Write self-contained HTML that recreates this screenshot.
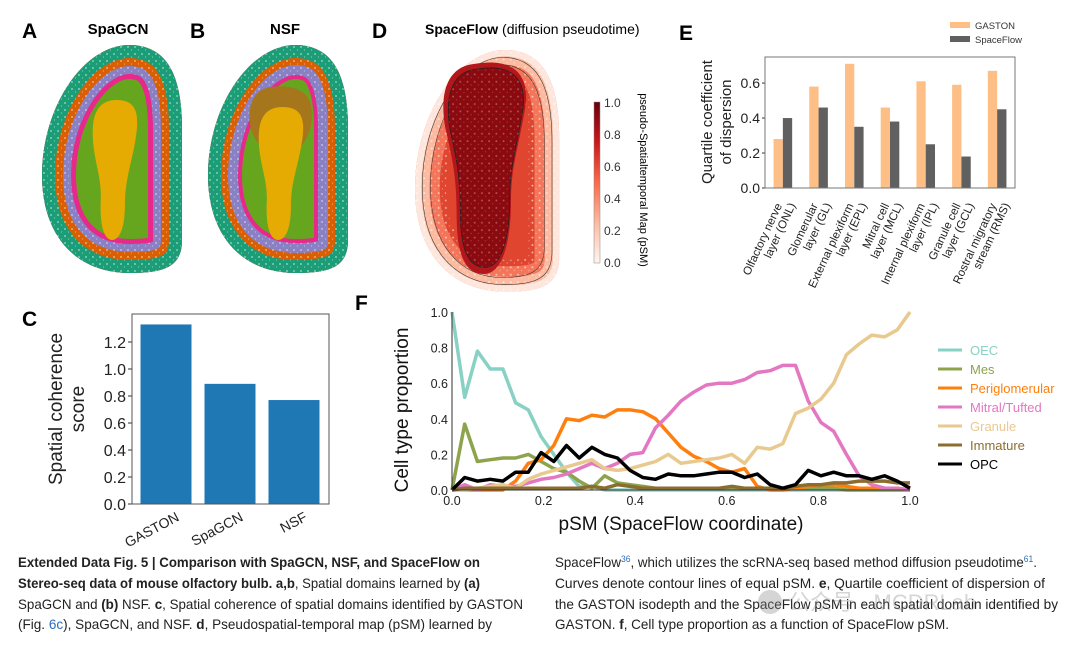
<!DOCTYPE html>
<html><head><meta charset="utf-8">
<style>
body{margin:0;background:#fff;}
svg{display:block;font-family:"Liberation Sans","DejaVu Sans",sans-serif;}
.cap{font-family:"Liberation Sans Narrow","Liberation Sans",sans-serif;font-size:14px;fill:#222;}
</style></head>
<body>
<svg id="fig" width="1080" height="651" viewBox="0 0 1080 651">
<defs>
<pattern id="speck" width="7" height="7" patternUnits="userSpaceOnUse">
<circle cx="2" cy="2" r="0.9" fill="#fff" opacity="0.6"/><circle cx="5.5" cy="5" r="0.6" fill="#fff" opacity="0.45"/>
</pattern>
<path id="kid" d="M90 0 C128 2 140 35 140 85 L140 195 C140 222 122 228 88 228 C35 228 0 192 0 130 C0 62 42 -2 90 0 Z"/>
<clipPath id="kclip"><use href="#kid"/></clipPath>
<path id="inner" d="M50 0 C70 0 72 15 68 40 C64 65 58 80 58 105 C58 130 52 140 46 140 C38 140 34 125 35 100 C36 80 30 65 28 45 C25 15 32 0 50 0 Z"/>
<path id="dcore" d="M60 18 C95 12 110 28 104 60 C98 95 92 110 92 140 C92 175 85 205 68 205 C48 205 44 180 44 150 C44 120 40 100 34 75 C28 40 38 20 60 18 Z"/>
<linearGradient id="cbar" x1="0" y1="1" x2="0" y2="0">
<stop offset="0" stop-color="#fff5f0"/><stop offset="0.25" stop-color="#fcbba1"/><stop offset="0.5" stop-color="#fb6a4a"/><stop offset="0.75" stop-color="#cb181d"/><stop offset="1" stop-color="#67000d"/>
</linearGradient>
</defs>

<!-- Panel A -->
<text x="22" y="38" font-size="21" font-weight="bold">A</text>
<text x="118" y="34" font-size="15" font-weight="bold" text-anchor="middle">SpaGCN</text>
<g transform="translate(42,45)">
<g clip-path="url(#kclip)">
<use href="#kid" fill="#66a61e"/>
<use href="#kid" fill="none" stroke="#e7298a" stroke-width="68"/>
<use href="#kid" fill="none" stroke="#8a80c4" stroke-width="58"/>
<use href="#kid" fill="none" stroke="#d95f02" stroke-width="42"/>
<use href="#kid" fill="none" stroke="#1b9e77" stroke-width="26"/>
<use href="#kid" fill="none" stroke="url(#speck)" stroke-width="58"/>
</g>
<use href="#inner" fill="#e6ab02" transform="translate(22,55) scale(1.05,1)"/>
</g>

<!-- Panel B -->
<text x="190" y="38" font-size="21" font-weight="bold">B</text>
<text x="285" y="34" font-size="15" font-weight="bold" text-anchor="middle">NSF</text>
<g transform="translate(208,45)">
<g clip-path="url(#kclip)">
<use href="#kid" fill="#66a61e"/>
<use href="#kid" fill="none" stroke="#e7298a" stroke-width="68"/>
<use href="#kid" fill="none" stroke="#8a80c4" stroke-width="60"/>
<use href="#kid" fill="none" stroke="#d95f02" stroke-width="40"/>
<use href="#kid" fill="none" stroke="#1b9e77" stroke-width="26"/>
<use href="#kid" fill="none" stroke="url(#speck)" stroke-width="60"/>
</g>
<path d="M62 42 C95 38 108 52 103 80 C99 100 86 110 76 112 C60 112 48 100 43 84 C38 62 45 45 62 42 Z" fill="#a6761d"/>
<use href="#inner" fill="#e6ab02" transform="translate(22,62) scale(1.05,0.95)"/>
</g>

<!-- Panel D -->
<text x="372" y="38" font-size="21" font-weight="bold">D</text>
<text x="425" y="34" font-size="14"><tspan font-weight="bold">SpaceFlow</tspan> (diffusion pseudotime)</text>
<g transform="translate(415,50) scale(1.03,1.06)">
<g clip-path="url(#kclip)">
<use href="#kid" fill="#e0452f"/>
<use href="#kid" fill="none" stroke="#f4765a" stroke-width="48"/>
<use href="#kid" fill="none" stroke="#fcbba1" stroke-width="28"/>
<use href="#kid" fill="none" stroke="#fee6dc" stroke-width="12"/>
<use href="#kid" fill="none" stroke="url(#speck)" stroke-width="60"/>
<use href="#kid" fill="none" stroke="#333" stroke-width="0.6" transform="translate(7,7) scale(0.9,0.94)"/>
<use href="#kid" fill="none" stroke="#333" stroke-width="0.6" transform="translate(15,14) scale(0.79,0.88)"/>
</g>
<use href="#dcore" fill="#b3161b" transform="translate(-8,-6) scale(1.1,1.06)"/>
<use href="#dcore" fill="#8b0a0f"/>
<use href="#dcore" fill="none" stroke="#222" stroke-width="0.7"/>
<use href="#dcore" fill="url(#speck)" opacity="0.5"/>
</g>
<rect x="594" y="102" width="6" height="161" fill="url(#cbar)" stroke="#888" stroke-width="0.5"/>
<g font-size="12" fill="#333">
<text x="604" y="107">1.0</text><text x="604" y="139">0.8</text><text x="604" y="171">0.6</text><text x="604" y="203">0.4</text><text x="604" y="235">0.2</text><text x="604" y="267">0.0</text>
</g>
<text transform="translate(640,180) rotate(90)" font-size="11" text-anchor="middle">pseudo-Spatialtemporal Map (pSM)</text>

<!-- Panel E -->
<text x="679" y="40" font-size="21" font-weight="bold">E</text>
<g id="chartE"></g>

<!-- Panel C -->
<text x="22" y="326" font-size="21" font-weight="bold">C</text>
<g id="chartC"></g>

<!-- Panel F -->
<text x="355" y="310" font-size="21" font-weight="bold">F</text>
<g id="chartF"></g>

<!-- Caption -->
<g class="cap">
<text x="18" y="567" textLength="462" lengthAdjust="spacingAndGlyphs" font-weight="bold">Extended Data Fig. 5 | Comparison with SpaGCN, NSF, and SpaceFlow on</text>
<text x="18" y="588" textLength="462" lengthAdjust="spacingAndGlyphs"><tspan font-weight="bold">Stereo-seq data of mouse olfactory bulb. a,b</tspan>, Spatial domains learned by <tspan font-weight="bold">(a)</tspan></text>
<text x="18" y="609" textLength="505" lengthAdjust="spacingAndGlyphs">SpaGCN and <tspan font-weight="bold">(b)</tspan> NSF. <tspan font-weight="bold">c</tspan>, Spatial coherence of spatial domains identified by GASTON</text>
<text x="18" y="629" textLength="474" lengthAdjust="spacingAndGlyphs">(Fig. <tspan fill="#2a6ebb">6c</tspan>), SpaGCN, and NSF. <tspan font-weight="bold">d</tspan>, Pseudospatial-temporal map (pSM) learned by</text>
<text x="555" y="567" textLength="482" lengthAdjust="spacingAndGlyphs">SpaceFlow<tspan fill="#2a6ebb" font-size="9" dy="-5">36</tspan><tspan dy="5">, which utilizes the scRNA-seq based method diffusion pseudotime</tspan><tspan fill="#2a6ebb" font-size="9" dy="-5">61</tspan><tspan dy="5">.</tspan></text>
<text x="555" y="588" textLength="490" lengthAdjust="spacingAndGlyphs">Curves denote contour lines of equal pSM. <tspan font-weight="bold">e</tspan>, Quartile coefficient of dispersion of</text>
<text x="555" y="609" textLength="503" lengthAdjust="spacingAndGlyphs">the GASTON isodepth and the SpaceFlow pSM in each spatial domain identified by</text>
<text x="555" y="629" textLength="394" lengthAdjust="spacingAndGlyphs">GASTON. <tspan font-weight="bold">f</tspan>, Cell type proportion as a function of SpaceFlow pSM.</text>
</g>
<g opacity="0.35">
<circle cx="770" cy="602" r="12" fill="#888"/>
<text x="788" y="610" font-size="22" fill="#888" font-family="Liberation Sans, Noto Sans CJK SC, sans-serif">公众号 · MCDRLab</text>
</g>
</svg>

<script>
const NS="http://www.w3.org/2000/svg";
function mk(parent,tag,attrs,txt){const e=document.createElementNS(NS,tag);for(const k in attrs)e.setAttribute(k,attrs[k]);if(txt!==undefined)e.textContent=txt;parent.appendChild(e);return e;}

// ---------- Panel C data ----------
const cCats=["GASTON","SpaGCN","NSF"];
const cVals=[1.33,0.89,0.77];
const cTicks=[0.0,0.2,0.4,0.6,0.8,1.0,1.2];

// ---------- Panel E data ----------
const eCats=[["Olfactory nerve","layer (ONL)"],["Glomerular","layer (GL)"],["External plexiform","layer (EPL)"],["Mitral cell","layer (MCL)"],["Internal plexiform","layer (IPL)"],["Granule cell","layer (GCL)"],["Rostral migratory","stream (RMS)"]];
const eGaston=[0.28,0.58,0.71,0.46,0.61,0.59,0.67];
const eSpaceflow=[0.40,0.46,0.35,0.38,0.25,0.18,0.45];
const eTicks=[0.0,0.2,0.4,0.6];

// ---------- Panel F data ----------
const fNames=["OEC","Mes","Periglomerular","Mitral/Tufted","Granule","Immature","OPC"];
const fOEC=[1.0,0.52,0.78,0.68,0.68,0.49,0.45,0.30,0.20,0.10,0.02,0.02,0.0,0,0,0,0,0,0,0,0,0,0,0,0,0,0,0,0,0,0,0,0,0,0,0,0];
const fMes=[0,0.37,0.16,0.17,0.18,0.18,0.20,0.16,0.12,0.10,0.05,0.01,0.08,0.04,0.03,0.02,0.01,0.01,0.01,0.01,0.01,0.01,0.01,0.01,0.01,0.01,0.01,0.01,0.01,0.01,0.01,0,0,0,0,0,0];
const fPeri=[0,0,0,0,0,0.05,0.15,0.17,0.25,0.40,0.39,0.42,0.41,0.45,0.45,0.44,0.40,0.32,0.24,0.19,0.16,0.12,0.10,0.12,0.02,0,0,0.01,0.02,0.03,0.03,0.02,0.01,0.01,0.01,0.01,0];
const fMitral=[0,0.03,0,0.03,0.02,0.02,0.04,0.06,0.07,0.09,0.12,0.15,0.12,0.15,0.20,0.21,0.35,0.42,0.50,0.55,0.59,0.60,0.60,0.62,0.66,0.67,0.70,0.70,0.50,0.38,0.33,0.20,0.08,0.03,0.01,0.01,0];
const fGranule=[0,0,0.01,0.02,0.03,0.01,0.06,0.09,0.11,0.13,0.15,0.17,0.12,0.11,0.12,0.14,0.16,0.20,0.15,0.16,0.17,0.18,0.20,0.15,0.24,0.23,0.26,0.43,0.46,0.51,0.60,0.76,0.82,0.87,0.86,0.90,1.0];
const fImm=[0,0.01,0.01,0.01,0.01,0.01,0.01,0.01,0.01,0.01,0.01,0.02,0.01,0.03,0.02,0.01,0.01,0.01,0.01,0.01,0.01,0.01,0.02,0.01,0.01,0.01,0.01,0.02,0.03,0.03,0.04,0.04,0.05,0.05,0.05,0.04,0.04];
const fOPC=[0,0.07,0.05,0.06,0.05,0.10,0.10,0.21,0.16,0.25,0.18,0.24,0.20,0.18,0.11,0.07,0.06,0.09,0.08,0.08,0.09,0.10,0.10,0.07,0.09,0.03,0.01,0.03,0.11,0.08,0.10,0.08,0.08,0.06,0.08,0.05,0.01];
const fTicks=[0.0,0.2,0.4,0.6,0.8,1.0];

// ===== Chart C =====
(function(){
 const g=document.getElementById('chartC');
 const L=132,R=329,T=314,B=504,max=1.4074;
 const y=v=>B-(v/max)*(B-T);
 const x=i=>166+i*64;
 cTicks.forEach(t=>{
  const tx=mk(g,'text',{x:L-6,y:y(t)+6,'font-size':16,'text-anchor':'end',fill:'#222'},t.toFixed(1));
  
  
  mk(g,'line',{x1:L-4,x2:L,y1:y(t),y2:y(t),stroke:'#333'});
 });
 cVals.forEach((v,i)=>{
  const r=mk(g,'rect',{x:x(i)-25.5,y:y(v),width:51,height:B-y(v),fill:'#1f77b4'});
  
  
  const t=mk(g,'text',{transform:`translate(${x(i)+14},${B+16}) rotate(-28)`,'font-size':14,'text-anchor':'end',fill:'#222'},cCats[i]);
  
  
 });
 mk(g,'rect',{x:L,y:T,width:R-L,height:B-T,fill:'none',stroke:'#555','stroke-width':1});
 const yt=mk(g,'text',{transform:'translate(62,409) rotate(-90)','font-size':19,'text-anchor':'middle',fill:'#222'},'Spatial coherence');
 
 
 mk(g,'text',{transform:'translate(84,409) rotate(-90)','font-size':19,'text-anchor':'middle',fill:'#222'},'score');
})();

// ===== Chart E =====
(function(){
 const g=document.getElementById('chartE');
 const L=765,R=1015,T=57,B=188,max=0.749;
 const y=v=>B-(v/max)*(B-T);
 const gw=(R-L)/7;
 eTicks.forEach(t=>{
  const tx=mk(g,'text',{x:L-5,y:y(t)+5,'font-size':14,'text-anchor':'end',fill:'#222'},t.toFixed(1));
  
  
  mk(g,'line',{x1:L-3,x2:L,y1:y(t),y2:y(t),stroke:'#333'});
 });
 eCats.forEach((c,i)=>{
  const cx=L+gw*(i+0.5);
  const a=mk(g,'rect',{x:cx-9.3,y:y(eGaston[i]),width:9.3,height:B-y(eGaston[i]),fill:'#fdbf86'});
  
  
  const b=mk(g,'rect',{x:cx,y:y(eSpaceflow[i]),width:9.3,height:B-y(eSpaceflow[i]),fill:'#606060'});
  
  
  const t=mk(g,'text',{transform:`translate(${cx+2},${B+12}) rotate(-65)`,'font-size':11.5,'text-anchor':'end',fill:'#222'});
  
  
  mk(t,'tspan',{x:-6,dy:0},c[0]);
  mk(t,'tspan',{x:0,dy:12},c[1]);
 });
 mk(g,'rect',{x:L,y:T,width:R-L,height:B-T,fill:'none',stroke:'#777','stroke-width':1});
 const yt=mk(g,'text',{transform:'translate(712,122) rotate(-90)','font-size':15,'text-anchor':'middle',fill:'#222'},'Quartile coefficient');
 
 
 mk(g,'text',{transform:'translate(731,122) rotate(-90)','font-size':15,'text-anchor':'middle',fill:'#222'},'of dispersion');
 const lg=mk(g,'g',{});
 
 
 mk(lg,'rect',{x:950,y:22,width:20,height:6,fill:'#fdbf86'});
 mk(lg,'text',{x:975,y:29,'font-size':9.5,fill:'#333'},'GASTON');
 mk(lg,'rect',{x:950,y:36,width:20,height:6,fill:'#606060'});
 mk(lg,'text',{x:975,y:43,'font-size':9.5,fill:'#333'},'SpaceFlow');
})();

// ===== Chart F =====
(function(){
 const g=document.getElementById('chartF');
 const L=452,R=910,T=312,B=490;
 const x=v=>L+v*(R-L), y=v=>B-v*(B-T);
 const series=[fOEC,fMes,fPeri,fMitral,fGranule,fImm,fOPC];
 const colors=['#88d1c4','#8da34c','#ff7f0e','#e377c2','#e8c98f','#8c6d31','#000'];
 fTicks.forEach(t=>{
  const a=mk(g,'text',{x:L-4,y:y(t)+5,'font-size':12.5,'text-anchor':'end',fill:'#222'},t.toFixed(1));
  
  
  const b=mk(g,'text',{x:x(t),y:B+15,'font-size':12.5,'text-anchor':'middle',fill:'#222'},t.toFixed(1));
  
  
 });
 series.forEach((s,k)=>{
  const n=s.length-1;
  const d=s.map((v,i)=>(i?'L':'M')+x(i/n).toFixed(1)+' '+y(v).toFixed(1)).join(' ');
  const p=mk(g,'path',{d:d,fill:'none',stroke:colors[k],'stroke-width':3.5,'stroke-linejoin':'round'});
  
  
  const ly=350+k*19;
  const le=mk(g,'g',{});
  
  
  mk(le,'line',{x1:938,x2:962,y1:ly,y2:ly,stroke:colors[k],'stroke-width':3});
  mk(le,'text',{x:970,y:ly+5,'font-size':13,fill:k==6?'#000':colors[k]},fNames[k]);
 });
 mk(g,'line',{x1:L,x2:L,y1:T,y2:B,stroke:'#333'});
 mk(g,'line',{x1:L,x2:R,y1:B,y2:B,stroke:'#333'});
 const xt=mk(g,'text',{x:(L+R)/2,y:530,'font-size':19,'text-anchor':'middle',fill:'#111'},'pSM (SpaceFlow coordinate)');
 
 
 const yt=mk(g,'text',{transform:'translate(408,410) rotate(-90)','font-size':19,'text-anchor':'middle',fill:'#111'},'Cell type proportion');
 
 
})();
</script>
</body></html>
